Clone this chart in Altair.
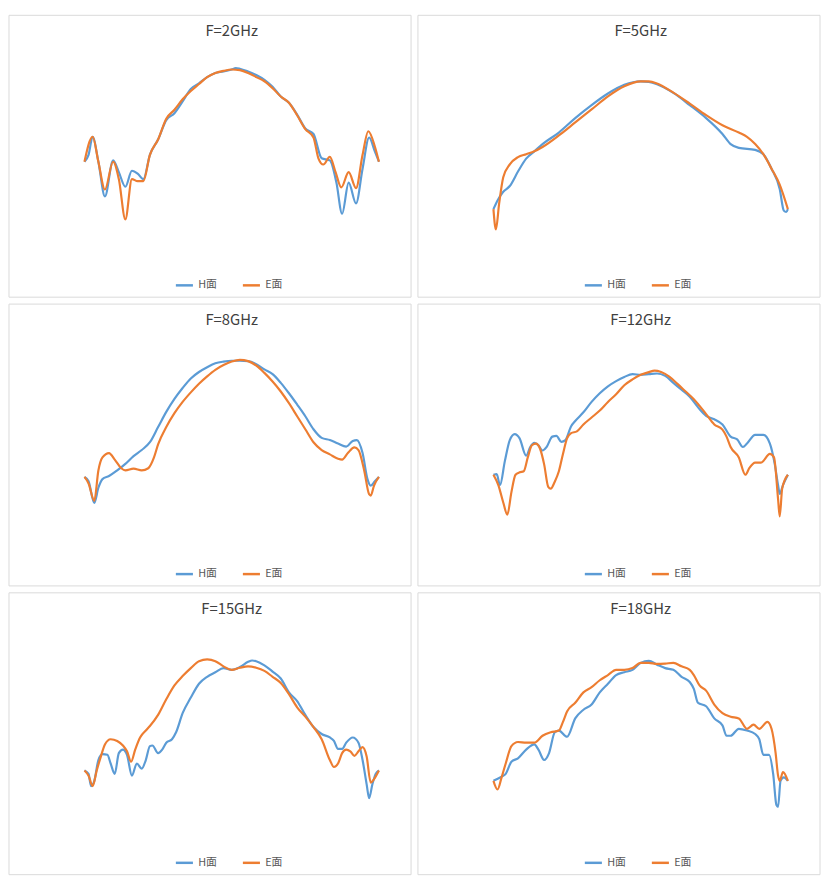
import altair as alt
import pandas as pd

BLUE = "#5B9BD5"
ORANGE = "#ED7D31"

# F=2GHz
h2_ang = [-180, -175, -170, -163, -155, -145, -138, -130, -122, -115, -108, -100, -90, -80, -70, -60, -50, -40, -30, -20, -10, 0, 5, 10, 20, 30, 40, 50, 60, 70, 80, 90, 100, 110, 120, 128, 135, 143, 152, 160, 168, 175, 180]
h2_db = [-14, -13, -10.4, -14, -19, -13.8, -15.5, -17.6, -15.3, -15.7, -16.5, -13, -10.8, -8, -7, -5.3, -3.5, -2.7, -1.8, -1.2, -1, -0.7, -0.5, -0.6, -1, -1.5, -2.2, -3.2, -4.6, -5.5, -7.2, -9.2, -10, -13.5, -13.8, -17, -21.5, -17, -20, -15, -10.5, -12.5, -14]
e2_ang = [-180, -170, -163, -155, -145, -138, -130, -122, -115, -108, -100, -90, -80, -70, -60, -50, -40, -30, -20, -10, 0, 10, 20, 30, 40, 50, 60, 70, 80, 90, 100, 106, 112, 120, 127, 134, 143, 152, 160, 167, 175, 180]
e2_db = [-14, -10.4, -14, -18, -14, -16.5, -22.3, -16.5, -16.8, -16.8, -13, -10.8, -7.8, -6.5, -5, -3.8, -2.8, -1.8, -1.2, -0.9, -0.7, -0.8, -1.2, -1.8, -2.4, -3.4, -4.6, -5.5, -7.3, -9.3, -10.5, -13.5, -14.4, -13.3, -15.5, -17.7, -15.5, -17.8, -13, -9.6, -11.8, -14]

# F=5GHz
h5_ang = [-180, -175, -168, -160, -150, -140, -130, -120, -100, -80, -60, -40, -20, 0, 10, 20, 40, 60, 80, 100, 110, 120, 140, 150, 160, 170, 175, 178, 180]
h5_db = [-40, -37, -34, -32, -27, -22.5, -20, -17.5, -13.5, -8.5, -4, 0, 3, 4.2, 4, 3.2, 0.2, -4, -8.5, -14, -17.5, -18.8, -19.5, -21, -26, -33, -40.5, -41, -40]
e5_ang = [-180, -177, -173, -168, -160, -150, -140, -130, -120, -100, -80, -60, -40, -20, 0, 10, 20, 40, 60, 80, 100, 120, 130, 140, 150, 160, 170, 180]
e5_db = [-40, -47, -38, -29, -24.5, -22, -21, -20, -18.5, -14.5, -10, -5.5, -1, 2.5, 4.2, 4.2, 3.5, 0.3, -3.5, -7.5, -11, -13.5, -15, -17.5, -21, -26, -31.5, -40]

# F=8GHz
h8_ang = [-180, -175, -168, -163, -158, -150, -140, -130, -120, -110, -100, -90, -80, -70, -60, -50, -40, -30, -20, -10, 0, 10, 20, 30, 40, 50, 60, 70, 80, 90, 100, 110, 120, 130, 140, 148, 153, 160, 166, 170, 175, 180]
h8_db = [-23.5, -24.5, -29.5, -26, -24, -23.3, -22, -20.5, -18.7, -17.3, -15.5, -12, -8.5, -5.5, -3, -0.8, 0.7, 1.8, 2.7, 3.1, 3.3, 3.3, 3.2, 2.5, 1.3, 0.2, -1.8, -4.2, -6.8, -9.5, -12.5, -14.5, -15, -15.8, -16.5, -15.2, -15, -18, -24, -25.5, -24.5, -23.5]
e8_ang = [-180, -175, -168, -163, -158, -150, -143, -135, -130, -120, -110, -102, -95, -90, -80, -70, -60, -50, -40, -30, -20, -10, 0, 10, 20, 30, 40, 50, 60, 70, 80, 90, 100, 110, 120, 130, 135, 142, 150, 155, 162, 168, 170, 174, 180]
e8_db = [-23.5, -25, -29, -22, -19, -18, -19.5, -21.5, -22, -21.6, -22, -21.5, -19, -16, -12, -8.8, -6.2, -4, -2, -0.3, 1.2, 2.3, 3.1, 3.5, 3.2, 2.2, 0.5, -1.5, -3.8, -6.5, -9.5, -12.5, -15.5, -17.3, -18.3, -19.3, -19.5, -18, -16.7, -17.3, -22, -27.5, -27.8, -25.5, -23.5]

# F=12GHz
h12_ang = [-180, -176, -172, -166, -160, -154, -148, -140, -135, -130, -125, -120, -115, -108, -103, -97, -92, -85, -80, -70, -60, -50, -40, -30, -20, -10, 0, 10, 20, 30, 40, 50, 60, 70, 80, 90, 100, 110, 118, 125, 130, 140, 150, 158, 164, 168, 170, 174, 180]
h12_db = [-25, -24.8, -28, -21, -15, -13.3, -14.5, -19.5, -17, -15.8, -16.5, -18, -17, -14, -13.8, -15.5, -15, -11, -9.5, -7, -4, -1.5, 0.5, 2, 3.2, 4, 3.8, 4, 4.2, 3.5, 1.5, -0.5, -2.5, -5.5, -8, -9, -10.5, -14, -14.8, -17, -16, -13.5, -13.5, -16, -22, -28, -30.5, -28, -25]
e12_ang = [-180, -174, -168, -163, -158, -153, -148, -143, -138, -133, -128, -123, -118, -113, -110, -105, -100, -95, -90, -85, -78, -70, -60, -50, -40, -30, -20, -10, 0, 10, 17, 25, 35, 45, 55, 65, 80, 90, 100, 105, 110, 120, 128, 133, 140, 147, 158, 163, 168, 170, 173, 180]
e12_db = [-25, -28, -33, -36.5, -30, -25, -24.3, -24, -20, -16.5, -16, -17.5, -22, -28.5, -29, -27, -24, -19, -14.5, -13, -12.5, -10.5, -8.5, -6.5, -4, -1.8, 0.8, 2.5, 3.8, 4.6, 5, 4.6, 3.3, 1.2, -1, -3.2, -7.5, -10.5, -12, -14, -17, -20, -25, -23, -21.5, -21.5, -19, -20, -32, -37, -29, -25]

# F=15GHz
h15_ang = [-180, -175, -172, -168, -163, -158, -152, -148, -143, -138, -133, -128, -122, -116, -110, -105, -100, -97, -90, -85, -80, -73, -68, -60, -50, -40, -30, -20, -10, 0, 10, 20, 25, 30, 40, 50, 60, 70, 80, 90, 100, 110, 120, 125, 130, 135, 140, 148, 155, 160, 165, 168, 172, 176, 180]
h15_db = [-27, -28, -31.5, -30, -24, -22.3, -22.5, -25, -28, -22, -21, -22.5, -28.5, -25, -26.5, -24, -20, -19.8, -22, -21, -19, -18, -16, -10.5, -6, -2, 0, 1.3, 2.5, 2, 2.8, 4.3, 4.7, 4.5, 3.3, 1.5, -0.5, -4.5, -7, -11, -14.5, -16.5, -17.5, -18.5, -20.8, -20.8, -19, -17.5, -19, -24, -31, -35, -31, -28, -27]
e15_ang = [-180, -175, -170, -165, -160, -155, -148, -140, -133, -128, -123, -118, -112, -105, -100, -90, -80, -70, -60, -50, -40, -30, -20, -10, 0, 10, 20, 30, 40, 50, 60, 70, 80, 90, 100, 110, 120, 125, 130, 135, 140, 145, 150, 155, 160, 165, 170, 174, 180]
e15_db = [-27, -28.5, -31.5, -27, -23, -19.5, -18, -18.5, -19.8, -21.5, -24.5, -21, -17.5, -15.5, -14.2, -11, -6.5, -2.5, 0.2, 2.5, 4.5, 5, 4.5, 3, 2, 2.6, 3, 2.6, 1.7, 0, -1.8, -5, -8.8, -11.5, -14.5, -18, -24, -26, -25, -22, -21, -21.5, -22.8, -21.5, -20.3, -23, -30.5, -29.5, -27]

# F=18GHz
h18_ang = [-180, -170, -165, -158, -150, -140, -130, -125, -118, -112, -105, -100, -90, -80, -70, -60, -50, -40, -30, -20, -10, 0, 10, 20, 30, 40, 50, 60, 65, 70, 80, 90, 100, 105, 110, 120, 130, 140, 145, 150, 157, 162, 166, 168, 171, 175, 180]
h18_db = [-30, -28.8, -28, -24.5, -23.5, -21, -19.5, -21, -24, -22, -16, -15.5, -17.3, -12, -9.5, -8, -4.5, -2, 0.5, 1.3, 2, 4, 4.6, 3.5, 2.5, 2, 0, -1.5, -3.5, -7.5, -8.5, -12, -14, -17, -17, -15, -15.5, -16.5, -18, -22.5, -22.5, -28, -37, -37.5, -30, -29, -30]
e18_ang = [-180, -175, -170, -165, -158, -150, -140, -130, -120, -110, -100, -95, -90, -80, -70, -60, -50, -40, -30, -20, -10, 0, 10, 20, 30, 40, 50, 60, 65, 72, 80, 90, 100, 110, 120, 130, 138, 145, 155, 160, 165, 168, 170, 174, 180]
e18_db = [-30, -32.5, -29, -25, -20, -18.8, -19, -19, -17, -16, -15.5, -13, -10, -7.5, -4.5, -3, -1, 0.5, 2, 2, 2.5, 4, 4, 3.7, 3.8, 4, 3, 2, 0.5, -2.5, -4, -8, -10.5, -11.5, -12, -15, -13.8, -15, -13, -15, -22, -28.5, -30, -27.5, -30]

FONT = "Noto Sans CJK SC"
W, H = 332, 176


def panel(title, h_ang, h_db, e_ang, e_db, ydom, ystep):
    df = pd.concat([
        pd.DataFrame({"angle": h_ang, "db": h_db, "s": "H面", "o": range(len(h_ang))}),
        pd.DataFrame({"angle": e_ang, "db": e_db, "s": "E面", "o": range(len(e_ang))}),
    ])
    yvals = list(range(ydom[0], ydom[1] + 1, ystep))
    lines = alt.Chart(df).mark_line(interpolate="monotone", strokeWidth=2.2).encode(
        x=alt.X("angle:Q", title="角度（°）",
                scale=alt.Scale(domain=[-200, 200], nice=False),
                axis=alt.Axis(values=[-200, -100, 0, 100, 200], grid=True)),
        y=alt.Y("db:Q", title="幅度（dB）",
                scale=alt.Scale(domain=ydom, nice=False),
                axis=alt.Axis(values=yvals, domain=False, ticks=False)),
        color=alt.Color("s:N", scale=alt.Scale(domain=["H面", "E面"], range=[BLUE, ORANGE]),
                        legend=alt.Legend(title=None, orient="none", direction="horizontal",
                                          legendX=W / 2 - 58, legendY=H + 38,
                                          symbolType="stroke", symbolStrokeWidth=2.5,
                                          symbolSize=300, labelFontSize=11, labelColor="#595959",
                                          labelFont=FONT, columnPadding=20)),
        order="o:Q",
    )
    frame = alt.Chart(pd.DataFrame({"a": [0]})).mark_rect(
        fill="white", stroke="#d9d9d9", strokeWidth=1
    ).encode(x=alt.value(-60), x2=alt.value(W + 16), y=alt.value(-50), y2=alt.value(H + 60))
    head = alt.Chart(pd.DataFrame({"t": [title]})).mark_text(
        fontSize=15, font=FONT, color="#404040", baseline="middle"
    ).encode(text="t:N", x=alt.value(W / 2), y=alt.value(-34))
    return alt.layer(frame, lines, head).properties(width=W, height=H)


p1 = panel("F=2GHz", h2_ang, h2_db, e2_ang, e2_db, [-25, 0], 5)
p2 = panel("F=5GHz", h5_ang, h5_db, e5_ang, e5_db, [-50, 10], 10)
p3 = panel("F=8GHz", h8_ang, h8_db, e8_ang, e8_db, [-35, 5], 5)
p4 = panel("F=12GHz", h12_ang, h12_db, e12_ang, e12_db, [-40, 10], 10)
p5 = panel("F=15GHz", h15_ang, h15_db, e15_ang, e15_db, [-40, 10], 5)
p6 = panel("F=18GHz", h18_ang, h18_db, e18_ang, e18_db, [-40, 10], 10)

chart = alt.vconcat(
    alt.hconcat(p1, p2, spacing=5).resolve_scale(color="independent"),
    alt.hconcat(p3, p4, spacing=5).resolve_scale(color="independent"),
    alt.hconcat(p5, p6, spacing=5).resolve_scale(color="independent"),
    spacing=5,
).resolve_scale(color="independent").properties(padding=0).configure_view(
    stroke=None
).configure_axis(
    labelFont=FONT, titleFont=FONT, labelFontSize=11, titleFontSize=12,
    labelColor="#595959", titleColor="#595959", titleFontWeight="normal",
    gridColor="#d9d9d9", domainColor="#d9d9d9", tickColor="#d9d9d9", zindex=1,
).configure_axisX(ticks=False, labelPadding=6).configure_legend(zindex=1)

chart.save("out.html", embed_options={"renderer": "svg", "actions": False})
